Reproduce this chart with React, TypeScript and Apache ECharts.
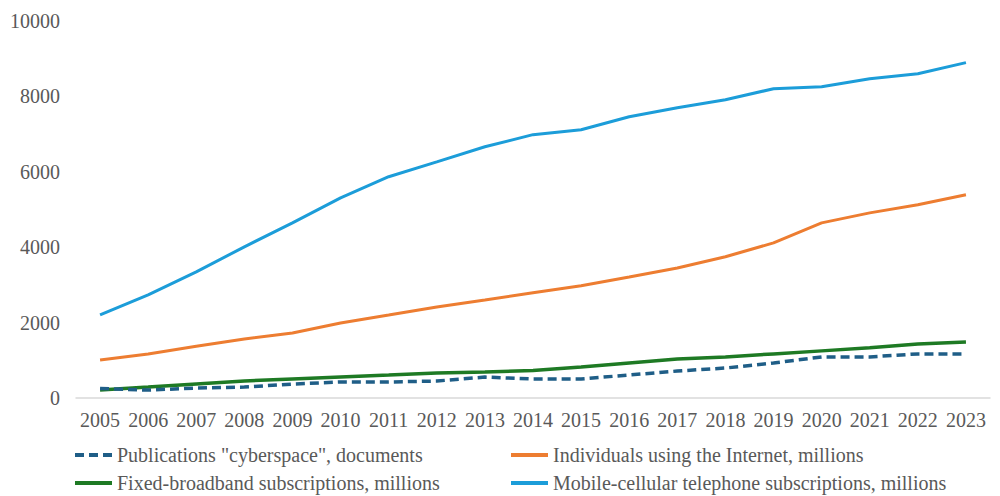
import React, { useEffect, useRef } from "react";
import * as echarts from "echarts";

const years = ["2005","2006","2007","2008","2009","2010","2011","2012","2013","2014","2015","2016","2017","2018","2019","2020","2021","2022","2023"];
const publications = [250, 210, 265, 290, 370, 425, 425, 450, 555, 505, 505, 610, 715, 795, 930, 1090, 1090, 1170, 1170];
const individuals = [1010, 1165, 1375, 1565, 1725, 1990, 2200, 2415, 2600, 2790, 2975, 3210, 3450, 3745, 4115, 4645, 4910, 5125, 5390];
const fixedBroadband = [215, 290, 370, 450, 505, 560, 610, 665, 690, 730, 825, 930, 1035, 1090, 1170, 1250, 1330, 1435, 1487];
const mobileCellular = [2205, 2735, 3345, 4010, 4645, 5310, 5870, 6265, 6665, 6985, 7115, 7460, 7700, 7910, 8205, 8255, 8470, 8600, 8895];

const names = [
  'Publications "cyberspace", documents',
  "Individuals using the Internet, millions",
  "Fixed-broadband subscriptions, millions",
  "Mobile-cellular telephone subscriptions, millions",
];

const FONT = "Liberation Serif";
const TEXT = "#595959";

export default function App() {
  const ref = useRef<HTMLDivElement>(null);
  useEffect(() => {
    if (!ref.current) return;
    const chart = echarts.init(ref.current, undefined, { renderer: "svg" });
    const mkLegend = (left: number, data: string[]) => ({
      orient: "vertical",
      top: 445,
      left,
      data,
      itemWidth: 37,
      itemHeight: 14,
      itemGap: 8,
      itemNameGap: 3,
      padding: 0,
      itemStyle: { opacity: 0 },
      lineStyle: { width: 4 },
      textStyle: { fontFamily: FONT, fontSize: 20, color: TEXT },
      selectedMode: false,
    });
    chart.setOption({
      animation: false,
      backgroundColor: "#ffffff",
      textStyle: { fontFamily: FONT },
      grid: { left: 76, right: 10, top: 21, bottom: 98, containLabel: false },
      legend: [mkLegend(73, [names[0], names[2]]), mkLegend(509, [names[1], names[3]])],
      xAxis: {
        type: "category",
        data: years,
        boundaryGap: true,
        axisLine: { show: true, lineStyle: { color: "#d9d9d9", width: 1.5 } },
        axisTick: { show: false },
        axisLabel: { fontFamily: FONT, fontSize: 20, color: TEXT, margin: 12, interval: 0 },
      },
      yAxis: {
        type: "value",
        min: 0,
        max: 10000,
        interval: 2000,
        splitLine: { show: false },
        axisLine: { show: false },
        axisTick: { show: false },
        axisLabel: { fontFamily: FONT, fontSize: 20, color: TEXT, margin: 16, formatter: (v: number) => String(v) },
      },
      series: [
        {
          name: names[0], type: "line", data: publications, symbol: "none", z: 3,
          lineStyle: { color: "#1F5E87", width: 3.5, type: [9, 5] },
          itemStyle: { color: "#1F5E87" },
        },
        {
          name: names[1], type: "line", data: individuals, symbol: "none",
          lineStyle: { color: "#ED7D31", width: 3 },
          itemStyle: { color: "#ED7D31" },
        },
        {
          name: names[2], type: "line", data: fixedBroadband, symbol: "none", z: 2,
          lineStyle: { color: "#1E7A24", width: 3.5 },
          itemStyle: { color: "#1E7A24" },
        },
        {
          name: names[3], type: "line", data: mobileCellular, symbol: "none",
          lineStyle: { color: "#1C9DD9", width: 3 },
          itemStyle: { color: "#1C9DD9" },
        },
      ],
    });
    return () => chart.dispose();
  }, []);
  return <div ref={ref} style={{ width: 1000, height: 496, position: "fixed", left: 0, top: 0 }} />;
}
